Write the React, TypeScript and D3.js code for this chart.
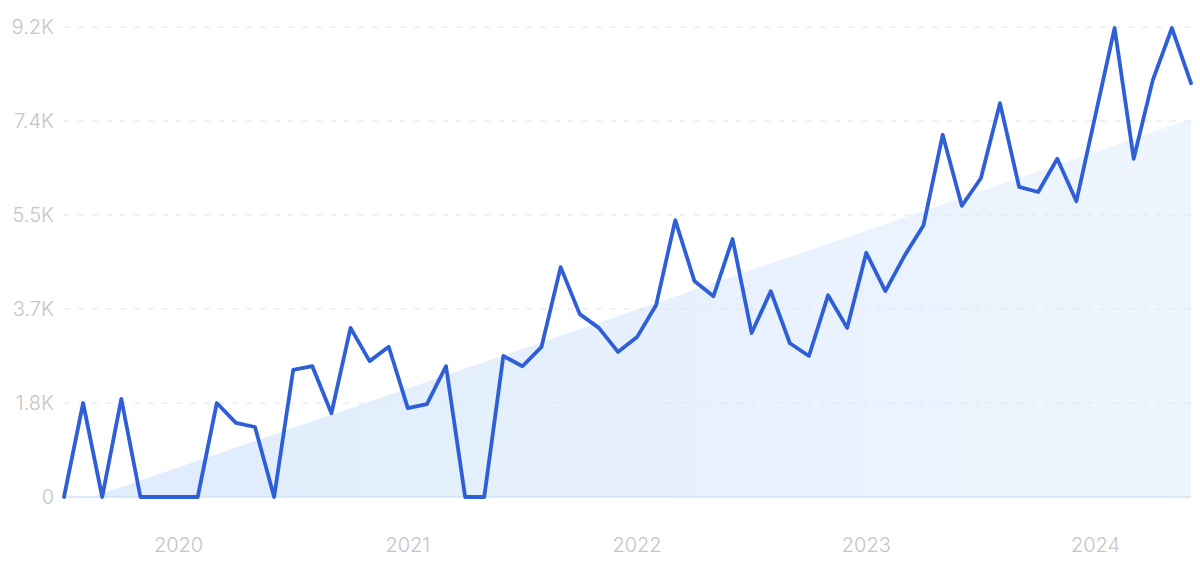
import React from "react";
import * as d3 from "d3";

const months: string[] = (() => {
  const out: string[] = [];
  for (let y = 2019; y <= 2024; y++) for (let m = 1; m <= 12; m++) out.push(`${y}-${String(m).padStart(2, "0")}`);
  return out.slice(6, 66);
})();

const values: number[] = [
  0, 1840, 0, 1920, 0, 0, 0, 0, 1840, 1450, 1370, 0,
  2490, 2560, 1640, 3310, 2660, 2940, 1740, 1820, 2560, 0, 0, 2760,
  2560, 2940, 4500, 3580, 3310, 2840, 3130, 3760, 5420, 4230, 3930, 5050,
  3210, 4030, 3010, 2760, 3950, 3310, 4780, 4030, 4720, 5320, 7090, 5700,
  6240, 7710, 6070, 5970, 6620, 5790, 7480, 9180, 6620, 8160, 9180, 8100,
];

const trendStart = -190;
const trendEnd = 7400;

const yTicks: number[] = [0, 1840, 3680, 5520, 7360, 9200];
const yTickLabels: string[] = ["0", "1.8K", "3.7K", "5.5K", "7.4K", "9.2K"];
const yearLabels: string[] = ["2020", "2021", "2022", "2023", "2024"];

export default function App() {
  const W = 1200, H = 562;
  const left = 64, right = 1191, top = 27, bottom = 497;
  const x = d3.scaleLinear().domain([0, values.length - 1]).range([left, right]);
  const y = d3.scaleLinear().domain([0, 9200]).range([bottom, top]);

  const line = d3.line<number>().x((_, i) => x(i)).y((d) => y(d));
  const trend = values.map((_, i) => trendStart + ((trendEnd - trendStart) * i) / (values.length - 1));
  const area = d3
    .area<number>()
    .x((_, i) => x(i))
    .y0(bottom)
    .y1((d) => y(d));

  const font = "Inter, 'Noto Sans', sans-serif";

  return (
    <svg width={W} height={H} style={{ position: "absolute", left: 0, top: 0, background: "#fff" }}>
      <defs>
        <linearGradient id="trendGrad" x1="0" y1="0" x2="1" y2="0">
          <stop offset="0%" stopColor="#dfecfc" />
          <stop offset="100%" stopColor="#eef5fe" />
        </linearGradient>
        <clipPath id="plotClip">
          <rect x={left} y={top - 10} width={right - left} height={bottom - top + 10} />
        </clipPath>
      </defs>
      <path d={area(trend) || ""} fill="url(#trendGrad)" clipPath="url(#plotClip)" />
      {yTicks.map((t, i) =>
        i === 0 ? null : (
          <line key={t} x1={left} x2={right} y1={y(t)} y2={y(t)} stroke="#dde4ec" strokeWidth={1} strokeDasharray="6 8" />
        )
      )}
      <line x1={left} x2={right} y1={bottom} y2={bottom} stroke="#d3e2f5" strokeWidth={1.5} />
      {yTicks.map((t, i) => (
        <text key={"l" + t} x={54} y={y(t)} textAnchor="end" dominantBaseline="central" fontFamily={font} fontSize={20} fontWeight={300} fill="#c2c5cb">
          {yTickLabels[i]}
        </text>
      ))}
      {yearLabels.map((yr) => {
        const idx = months.indexOf(`${yr}-01`);
        return (
          <text key={yr} x={x(idx)} y={552} textAnchor="middle" fontFamily={font} fontSize={20} fontWeight={300} fill="#c2c5cb">
            {yr}
          </text>
        );
      })}
      <path d={line(values) || ""} fill="none" stroke="#2e5fd6" strokeWidth={3.8} strokeLinejoin="round" strokeLinecap="round" />
    </svg>
  );
}
